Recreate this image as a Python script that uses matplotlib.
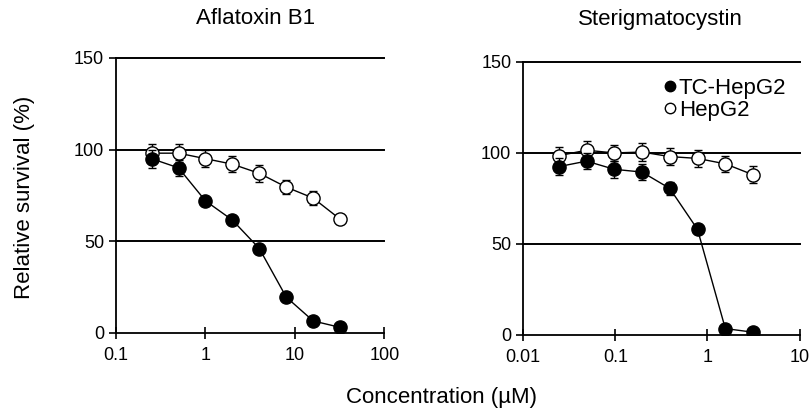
import numpy as np
import matplotlib.pyplot as plt
from matplotlib.lines import Line2D

plt.rcParams['font.family'] = ['Liberation Sans', 'DejaVu Sans']

# Aflatoxin B1
afb1_conc = [0.25, 0.5, 1, 2, 4, 8, 16, 32]
afb1_tc = [95, 90, 72, 61.5, 46, 19.5, 6.5, 3]
afb1_tc_err = [5, 4.5, 2, 2, 2, 1.5, 1, 1]
afb1_hep = [98, 98, 95, 92, 87, 79.5, 73.5, 62]
afb1_hep_err = [5, 5, 4.5, 4.5, 4.5, 4, 4, 2]

# Sterigmatocystin
stc_conc = [0.0244, 0.0488, 0.0977, 0.195, 0.39, 0.78, 1.5625, 3.125]
stc_tc = [92.5, 95.5, 91, 89.5, 80.5, 58, 3.5, 1.5]
stc_tc_err = [4.5, 4.5, 4.5, 4.5, 3.5, 2, 1, 1]
stc_hep = [98.5, 101.5, 100, 100.5, 98, 97, 94, 88]
stc_hep_err = [4.5, 4.8, 4.5, 5, 4.5, 4.6, 4.2, 4.6]

fig = plt.figure(figsize=(8.11, 4.13), dpi=100)
ax1 = fig.add_axes([0.143, 0.194, 0.331, 0.666])
ax2 = fig.add_axes([0.645, 0.189, 0.341, 0.661])

panels = [
    (ax1, afb1_conc, afb1_tc, afb1_tc_err, afb1_hep, afb1_hep_err, (0.1, 100), [0.1, 1, 10, 100], ['0.1', '1', '10', '100']),
    (ax2, stc_conc, stc_tc, stc_tc_err, stc_hep, stc_hep_err, (0.01, 10), [0.01, 0.1, 1, 10], ['0.01', '0.1', '1', '10']),
]

for ax, x, tc, tce, hep, hepe, xlim, xt, xtl in panels:
    ax.errorbar(x, hep, yerr=hepe, color='black', lw=1, marker='o', ms=9.5,
                mfc='white', mec='black', mew=1, capsize=3, elinewidth=1, zorder=3)
    ax.errorbar(x, tc, yerr=tce, color='black', lw=1, marker='o', ms=9.5,
                mfc='black', mec='black', capsize=3, elinewidth=1, zorder=4)
    ax.set_xscale('log')
    ax.set_xlim(*xlim)
    ax.set_ylim(0, 150)
    ax.set_xticks(xt)
    ax.set_xticklabels(xtl)
    ax.minorticks_off()
    ax.set_yticks([0, 50, 100, 150])
    for yv in [50, 100, 150]:
        ax.axhline(yv, color='black', lw=1.4, zorder=1, clip_on=False)
    ax.spines['top'].set_visible(False)
    ax.spines['right'].set_visible(False)
    ax.spines['left'].set_linewidth(1.3)
    ax.spines['bottom'].set_linewidth(1.3)
    ax.tick_params(axis='x', direction='inout', length=8, width=1.2, labelsize=13, pad=6)
    ax.tick_params(axis='y', direction='out', length=5, width=1.2, labelsize=13)

fig.text(256 / 811, 1 - 19 / 413, 'Aflatoxin B1', fontsize=16, ha='center', va='center')
fig.text(660 / 811, 1 - 19 / 413, 'Sterigmatocystin', fontsize=16, ha='center', va='center')
fig.text(25 / 811, 1 - 197 / 413, 'Relative survival (%)', fontsize=16, rotation=90,
         ha='center', va='center')
fig.text(442 / 811, 1 - 398 / 413, 'Concentration (µM)', fontsize=16, ha='center', va='center')

handles = [
    Line2D([], [], ls='none', marker='o', ms=7.5, mfc='black', mec='black'),
    Line2D([], [], ls='none', marker='o', ms=7.5, mfc='white', mec='black', mew=1),
]
ax2.legend(handles, ['TC-HepG2', 'HepG2'], loc='upper right', bbox_to_anchor=(1.0, 0.99),
           frameon=False, fontsize=16, handletextpad=0.0, handlelength=0.8,
           labelspacing=0.05, borderaxespad=0.2)

fig.savefig('out.png', dpi=100)
